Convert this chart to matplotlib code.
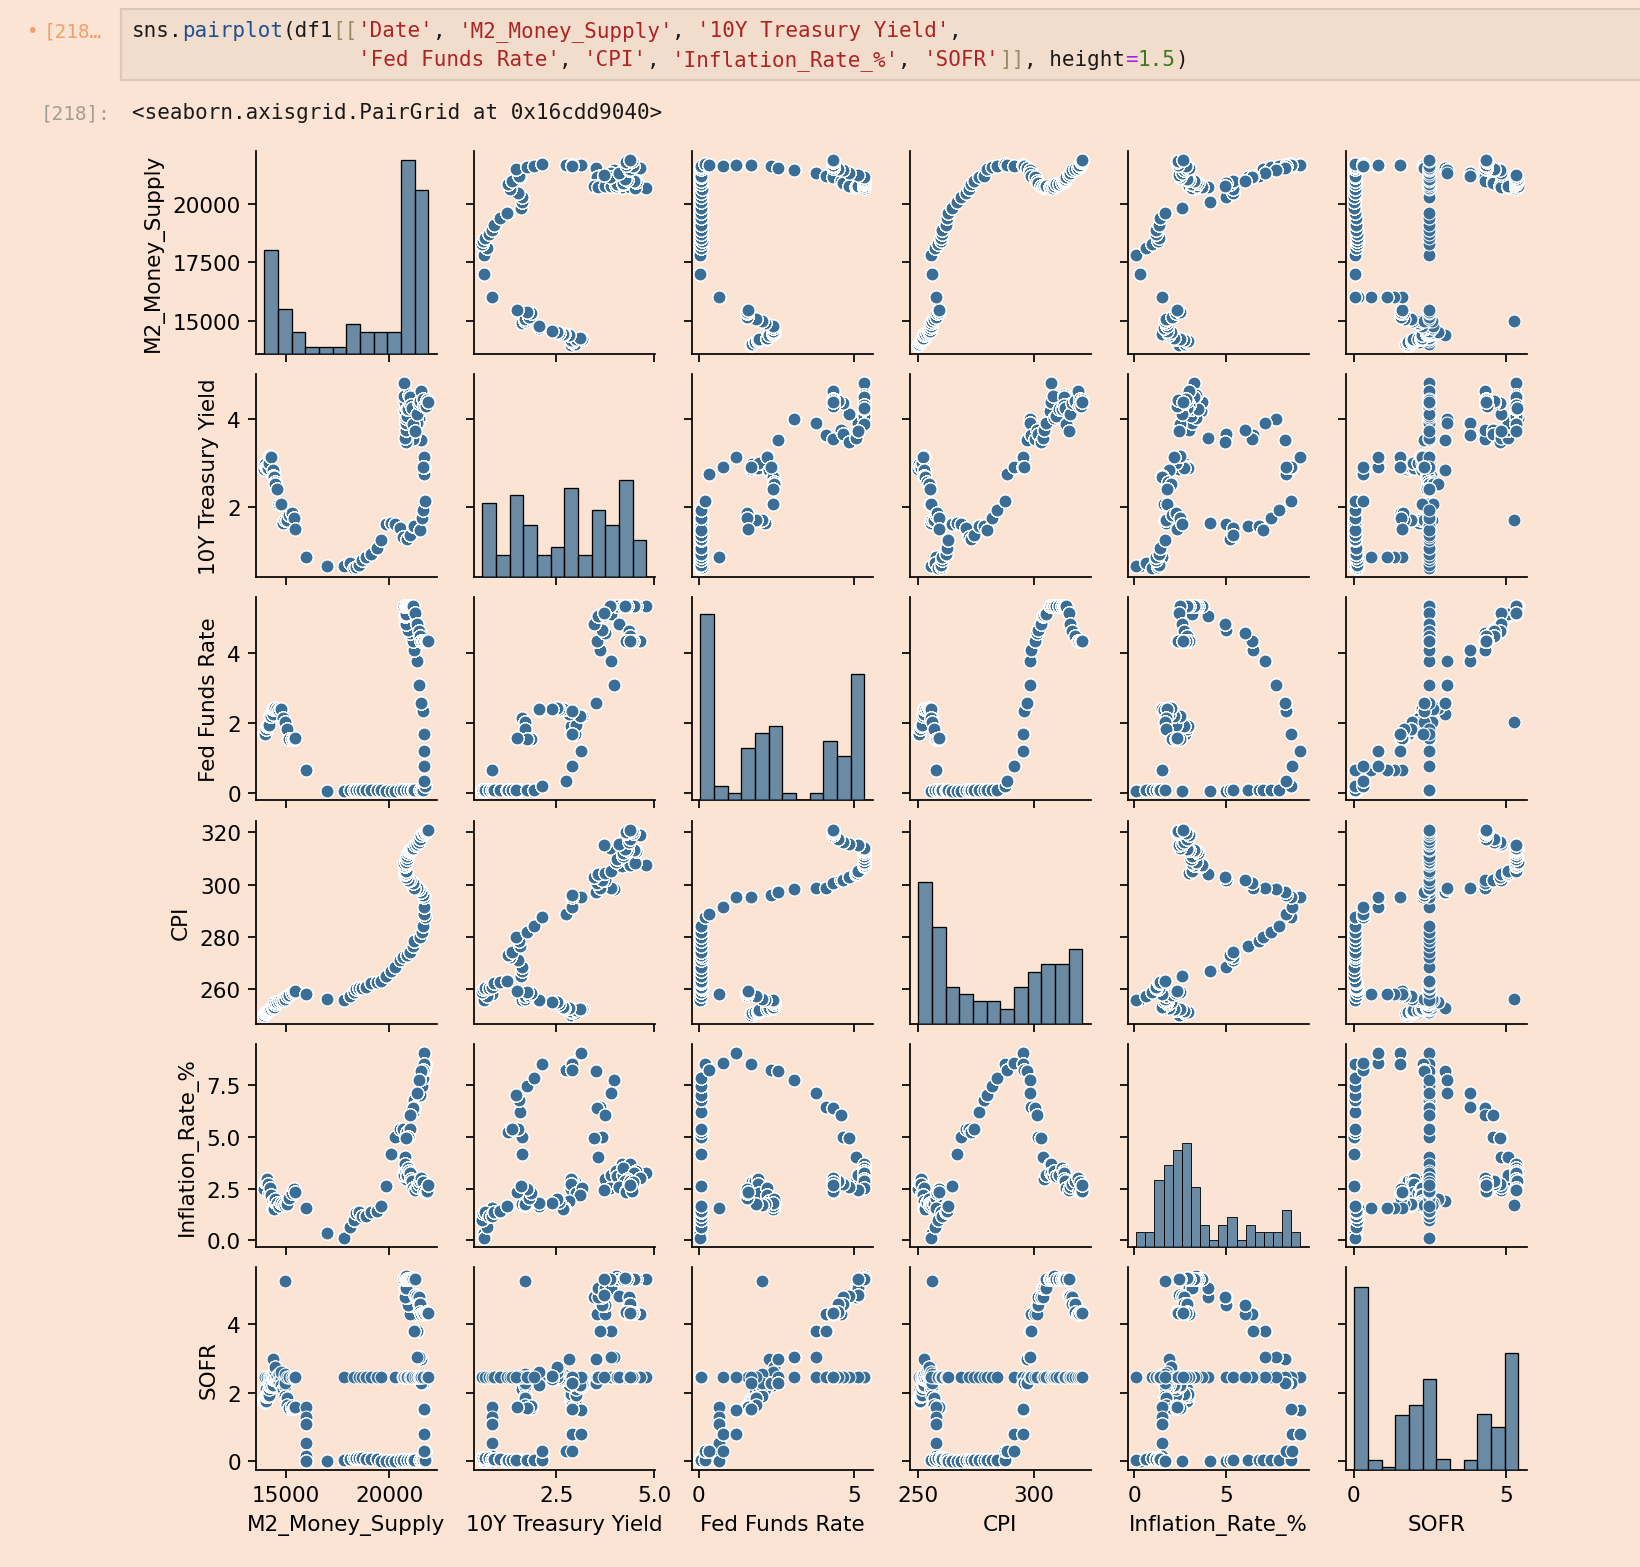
import numpy as np
import pandas as pd
import matplotlib
matplotlib.use("Agg")
import matplotlib.pyplot as plt
from matplotlib.patches import Rectangle
from cycler import cycler
import seaborn as sns

# ---------------- data (monthly, Apr 2018 - Jun 2025) ----------------
M2 = [13960, 14010, 14060, 14100, 14150, 14190, 14220, 14270, 14370,
      14400, 14440, 14470, 14500, 14570, 14660, 14780, 14880, 14960, 15080, 15160, 15320,
      15380, 15450, 16000, 17000, 17800, 18100, 18300, 18400, 18550, 18700, 18900, 19100,
      19400, 19600, 19850, 20100, 20300, 20500, 20650, 20850, 21000, 21150, 21200, 21500,
      21600, 21650, 21720, 21700, 21660, 21700, 21700, 21650, 21550, 21450, 21350, 21220,
      21150, 21000, 20900, 20800, 20750, 20800, 20800, 20750, 20750, 20700, 20700, 20800,
      20850, 20850, 20900, 20950, 21000, 21050, 21100, 21150, 21250, 21350, 21450, 21500,
      21550, 21650, 21700, 21800, 21850, 21900]

TY10 = [2.87, 2.98, 2.91, 2.89, 2.89, 3.00, 3.15, 3.12, 2.83,
        2.71, 2.68, 2.57, 2.53, 2.40, 2.07, 2.06, 1.63, 1.70, 1.71, 1.81, 1.86,
        1.76, 1.50, 0.87, 0.66, 0.67, 0.73, 0.62, 0.65, 0.68, 0.79, 0.87, 0.93,
        1.08, 1.26, 1.61, 1.64, 1.62, 1.52, 1.32, 1.28, 1.37, 1.58, 1.56, 1.47,
        1.76, 1.93, 2.13, 2.75, 2.90, 3.14, 2.90, 2.90, 3.52, 3.98, 3.89, 3.62,
        3.53, 3.75, 3.66, 3.46, 3.57, 3.75, 3.90, 4.17, 4.38, 4.80, 4.50, 4.02,
        4.06, 4.21, 4.21, 4.54, 4.48, 4.31, 4.25, 3.87, 3.72, 4.10, 4.36, 4.39,
        4.63, 4.45, 4.28, 4.28, 4.42, 4.38]

FFR = [1.69, 1.70, 1.82, 1.91, 1.91, 1.95, 2.19, 2.20, 2.27,
       2.40, 2.40, 2.41, 2.42, 2.39, 2.38, 2.40, 2.13, 2.04, 1.83, 1.55, 1.55,
       1.55, 1.58, 0.65, 0.05, 0.05, 0.08, 0.09, 0.10, 0.09, 0.09, 0.09, 0.09,
       0.09, 0.08, 0.07, 0.07, 0.06, 0.08, 0.10, 0.09, 0.08, 0.08, 0.08, 0.08,
       0.08, 0.08, 0.20, 0.33, 0.77, 1.21, 1.68, 2.33, 2.56, 3.08, 3.78, 4.10,
       4.33, 4.57, 4.65, 4.83, 5.06, 5.08, 5.12, 5.33, 5.33, 5.33, 5.33, 5.33,
       5.33, 5.33, 5.33, 5.33, 5.33, 5.33, 5.33, 5.33, 5.13, 4.83, 4.64, 4.48,
       4.33, 4.33, 4.33, 4.33, 4.33, 4.33]

CPI = [250.3, 250.8, 251.1, 251.4, 251.7, 252.0, 252.6, 252.5, 252.7,
       252.7, 253.3, 254.2, 255.0, 255.2, 255.3, 255.8, 256.0, 256.4, 257.2, 257.9, 258.6,
       259.1, 259.2, 258.1, 256.1, 255.9, 257.5, 258.9, 259.9, 260.3, 260.4, 260.7, 262.2,
       262.6, 263.3, 264.9, 266.8, 268.6, 271.0, 272.3, 273.1, 274.2, 276.6, 278.5, 280.1,
       281.9, 284.2, 287.7, 288.7, 291.6, 295.3, 295.3, 296.0, 297.0, 298.3, 298.6, 298.8,
       300.5, 301.6, 301.9, 303.0, 304.0, 304.6, 305.4, 307.0, 307.5, 307.6, 308.1, 308.7,
       309.7, 311.1, 312.2, 313.0, 313.1, 313.1, 313.5, 314.1, 315.2, 315.5, 316.4, 317.6,
       319.1, 319.8, 319.6, 320.3, 320.6, 321.0]

INFL = [2.46, 2.80, 2.87, 2.95, 2.70, 2.28, 2.52, 2.18, 1.91,
        1.55, 1.52, 1.86, 2.00, 1.79, 1.65, 1.81, 1.75, 1.71, 1.76, 2.05, 2.29,
        2.49, 2.33, 1.54, 0.33, 0.12, 0.65, 0.99, 1.31, 1.37, 1.18, 1.17, 1.36,
        1.40, 1.68, 2.62, 4.16, 4.99, 5.39, 5.37, 5.25, 5.39, 6.22, 6.81, 7.04,
        7.48, 7.87, 8.54, 8.26, 8.58, 9.06, 8.52, 8.26, 8.20, 7.75, 7.11, 6.45,
        6.41, 6.04, 4.98, 4.93, 4.05, 2.97, 3.18, 3.67, 3.70, 3.24, 3.14, 3.35,
        3.09, 3.17, 3.48, 3.36, 3.27, 2.97, 2.89, 2.53, 2.44, 2.60, 2.73, 2.89,
        3.00, 2.82, 2.39, 2.33, 2.38, 2.67]

# daily SOFR within each month: (level, number of business days)
SOFR_RUNS = [
    [(1.82, 4), (1.75, 17)], [(1.72, 13), (1.77, 7)], [(1.76, 9), (1.90, 11), (2.12, 1)],
    [(1.91, 14), (1.96, 6)], [(1.92, 15), (1.96, 6)], [(1.95, 14), (2.10, 4), (2.25, 2)],
    [(2.20, 16), (2.24, 4)], [(2.21, 11), (2.24, 8)], [(2.24, 11), (2.43, 8), (3.00, 1)],
    # 2019
    [(2.40, 15), (2.52, 4)], [(2.39, 17), (2.44, 3)], [(2.42, 17), (2.60, 4)],
    [(2.45, 12), (2.60, 5), (2.75, 4)], [(2.41, 15), (2.48, 5)], [(2.38, 16), (2.55, 3), (2.30, 2)],
    [(2.40, 13), (2.60, 2), (2.22, 5)], [(2.12, 21)],
    [(2.20, 9), (2.43, 1), (5.25, 1), (2.55, 1), (1.90, 6), (2.30, 2)],
    [(1.86, 17), (1.65, 3)], [(1.56, 19)], [(1.55, 17), (1.62, 3)],
    # 2020
    [(1.55, 19)], [(1.58, 20)], [(1.59, 2), (1.30, 1), (1.10, 7), (0.55, 1), (0.15, 3), (0.02, 7)],
    [(0.02, 21)], [(0.05, 20)], [(0.08, 21)], [(0.10, 20)], [(0.09, 21)], [(0.09, 20)],
    [(0.09, 20)], [(0.08, 19)], [(0.08, 20)],
    # 2021
    [(0.06, 19)], [(0.02, 20)], [(0.01, 21)], [(0.01, 21)], [(0.01, 20)], [(0.03, 11), (0.05, 10)],
    [(0.05, 20)], [(0.05, 21)], [(0.05, 20)], [(0.05, 20)], [(0.05, 19)], [(0.05, 20)],
    # 2022
    [(0.05, 19)], [(0.05, 20)], [(0.05, 12), (0.29, 9)], [(0.29, 21)], [(0.30, 3), (0.79, 17)],
    [(0.79, 10), (1.51, 10)], [(1.52, 18), (2.28, 2)], [(2.29, 21)], [(2.29, 14), (2.99, 6)],
    [(3.04, 20)], [(3.05, 1), (3.80, 18)], [(3.81, 10), (4.30, 10)],
    # 2023
    [(4.30, 19)], [(4.31, 1), (4.55, 19)], [(4.55, 15), (4.81, 6)], [(4.80, 21)],
    [(4.81, 3), (5.06, 17)], [(5.06, 20)], [(5.06, 18), (5.31, 2)], [(5.31, 21)],
    [(5.31, 20)], [(5.31, 20)], [(5.32, 19)], [(5.31, 18), (5.40, 2)],
    # 2024
    [(5.31, 19)], [(5.31, 20)], [(5.31, 21)], [(5.31, 21)], [(5.31, 20)], [(5.33, 20)],
    [(5.34, 20)], [(5.33, 21)], [(5.31, 12), (4.84, 8)], [(4.83, 20)], [(4.80, 5), (4.60, 14)],
    [(4.59, 12), (4.35, 8)],
    # 2025
    [(4.30, 19)], [(4.33, 20)], [(4.33, 21)], [(4.36, 21)], [(4.32, 20)], [(4.33, 20)],
]
# business days per month with no SOFR print (holidays), filled with the mean 2.45
SOFR_HOLIDAYS = [0, 1, 0, 1, 0, 1, 1, 2, 1,
                 2, 1, 0, 0, 1, 0, 1, 0, 1, 1, 2, 1,
                 2, 1, 0, 0, 1, 0, 1, 0, 1, 1, 2, 1,
                 2, 1, 0, 0, 1, 0, 1, 0, 1, 1, 2, 1,
                 2, 1, 0, 0, 1, 1, 1, 0, 1, 1, 2, 1,
                 2, 1, 0, 0, 1, 1, 1, 0, 1, 1, 2, 1,
                 2, 1, 0, 0, 1, 1, 1, 0, 1, 1, 2, 1,
                 2, 1, 0, 0, 1, 1]
SOFR_FILL = 2.45

COLS = ['M2_Money_Supply', '10Y Treasury Yield', 'Fed Funds Rate', 'CPI',
        'Inflation_Rate_%', 'SOFR']
XTICKS = {'M2_Money_Supply': [15000, 20000], '10Y Treasury Yield': [2.5, 5.0],
          'Fed Funds Rate': [0, 5], 'CPI': [250, 300], 'Inflation_Rate_%': [0, 5],
          'SOFR': [0, 5]}
YTICKS = {'M2_Money_Supply': [15000, 17500, 20000], '10Y Treasury Yield': [2, 4],
          'Fed Funds Rate': [0, 2, 4], 'CPI': [260, 280, 300, 320],
          'Inflation_Rate_%': [0.0, 2.5, 5.0, 7.5], 'SOFR': [0, 2, 4]}

# ---------------- build daily frame (monthly values carried over each business day) ----
sofr_daily, counts = [], []
for runs, hol in zip(SOFR_RUNS, SOFR_HOLIDAYS):
    month = [SOFR_FILL] * hol
    for lev, n in runs:
        month += [lev] * n
    sofr_daily += month
    counts.append(len(month))
counts = np.array(counts)

df1 = pd.DataFrame({
    'M2_Money_Supply': np.repeat(M2, counts),
    '10Y Treasury Yield': np.repeat(TY10, counts),
    'Fed Funds Rate': np.repeat(FFR, counts),
    'CPI': np.repeat(CPI, counts),
    'Inflation_Rate_%': np.repeat(INFL, counts),
    'SOFR': np.array(sofr_daily),
})

# ---------------- style ----------------
BG = '#fbe4d3'
W, H, DPI = 1640, 1568, 155
plt.rcParams['axes.prop_cycle'] = cycler(color=['#3b6e96'])
plt.rcParams['figure.facecolor'] = BG
plt.rcParams['axes.facecolor'] = 'none'
plt.rcParams['savefig.facecolor'] = BG
plt.rcParams['font.family'] = ['DejaVu Sans']

g = sns.pairplot(df1[COLS], height=1.5)
fig = g.figure
fig.set_dpi(DPI)
fig.set_size_inches(W / DPI, H / DPI)
fig.subplots_adjust(left=256 / W, right=1526.7 / W, top=1 - 151.7 / H,
                    bottom=1 - 1471.3 / H, wspace=0.2064, hspace=0.0984)

for i, var in enumerate(COLS):
    g.axes[i, 0].set_yticks(YTICKS[var])
    g.axes[-1, i].set_xticks(XTICKS[var])

# ---------------- notebook cell chrome ----------------
fig.add_artist(Rectangle((121 / W, 1 - 81 / H), (W - 121 + 10) / W, (81 - 9.5) / H,
                         transform=fig.transFigure, facecolor='#f2dccb',
                         edgecolor='#dcc8b6', lw=1.0, zorder=0))

K, BLUE, RED, BR, PURP, GRN = '#1a1a1a', '#1f4f93', '#ae2424', '#9a8c6a', '#a322e8', '#3a7a1f'
FS = 9.7
CW = 0.60205 * FS * DPI / 72.0


def mono(x_px, y_px, segs, fs=FS):
    cw = 0.60205 * fs * DPI / 72.0
    for txt, col in segs:
        fig.text(x_px / W, 1 - y_px / H, txt, color=col, fontsize=fs,
                 family='DejaVu Sans Mono', ha='left', va='baseline')
        x_px += len(txt) * cw


X0 = 131.5
mono(X0, 36.7, [("sns", K), (".", K), ("pairplot", BLUE), ("(df1", K), ("[[", BR),
                ("'Date'", RED), (", ", K), ("'M2_Money_Supply'", RED), (", ", K),
                ("'10Y Treasury Yield'", RED), (",", K)])
mono(X0 + 18 * CW, 66.0, [("'Fed Funds Rate'", RED), (", ", K), ("'CPI'", RED), (", ", K),
                          ("'Inflation_Rate_%'", RED), (", ", K), ("'SOFR'", RED),
                          ("]]", BR), (", height", K), ("=", PURP), ("1.5", GRN), (")", K)])
mono(X0, 119.0, [("<seaborn.axisgrid.PairGrid at 0x16cdd9040>", K)])

fig.text(33 / W, 1 - 37.3 / H, "\u2022", color='#f0a06e', fontsize=9.0,
         family='DejaVu Sans Mono', ha='center', va='baseline')
mono(44, 37.3, [("[218\u2026", '#f0a06e')], fs=9.0)
mono(40.5, 119.0, [("[218]:", '#a39d96')], fs=9.0)

fig.savefig("out.png", dpi=DPI)
